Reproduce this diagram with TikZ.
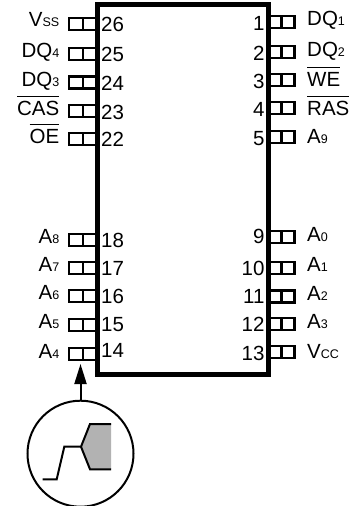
\documentclass[tikz,border=0pt]{standalone}
\usepackage{fontspec}
\setmainfont{Liberation Sans}
\usetikzlibrary{arrows.meta}
\newcommand{\sm}[1]{{\fontsize{12.5}{12.5}\selectfont #1}}
\newcommand{\barred}[1]{$\overline{\mbox{#1}\rule{0pt}{17.5pt}}$}
\tikzset{
	pinbox/.style={draw, line width=2.2pt, inner sep=0pt, outer sep=0pt, minimum height=12pt},
	pintext/.style={inner sep=0pt, font=\fontsize{20.5}{21}\selectfont}
}
\begin{document}
\begin{tikzpicture}[x=1pt, y=-1pt]
	\useasboundingbox (0,0) rectangle (356,506);
	% Left pins
	\foreach \n/\py/\txt/\ty/\ny in {26/23.7/V\sm{SS}/26/31.7, 25/54/DQ\sm{4}/57/61.7, 24/82.5/DQ\sm{3}/86.5/90, 23/111/\barred{CAS}/115/119, 22/139/\barred{OE}/143/146, 18/240/A\sm{8}/243/247, 17/268/A\sm{7}/271/275, 16/296/A\sm{6}/299/303, 15/325/A\sm{5}/328/331, 14/354/A\sm{4}/358/357} {
		\node[pinbox, minimum width=28pt] (pin\n) at (83,\py) {};
		\draw[line width=2.2pt] (pin\n.north) -- (pin\n.south);
		\node[pintext, anchor=base east] (name\n) at (59.5,\ty) {\txt};
		\node[pintext, anchor=base west] (num\n) at (101,\ny) {\n};
	}
	% Right pins
	\foreach \n/\py/\txt/\ty/\ny in {1/22/DQ\sm{1}/25/30, 2/52/DQ\sm{2}/56.7/60, 3/80/\barred{WE}/86.5/88, 4/108/\barred{RAS}/115/116.7, 5/137/A\sm{9}/143/145, 9/237/A\sm{0}/241.7/243, 10/267.7/A\sm{1}/271.7/275, 11/296.5/A\sm{2}/300/303, 12/324/A\sm{3}/328/331.7, 13/352/V\sm{CC}/358/360.7} {
		\node[pinbox, minimum width=26pt] (pin\n) at (281.5,\py) {};
		\draw[line width=2.2pt] (pin\n.north) -- (pin\n.south);
		\node[pintext, anchor=base west] (name\n) at (307,\ty) {\txt};
		\node[pintext, anchor=base east] (num\n) at (264.7,\ny) {\n};
	}
	% Package
	\node[draw, line width=4.5pt, inner sep=0pt, minimum width=171pt, minimum height=369.8pt] (chip) at (183,189.6) {};
	% Detail circle
	\node[draw, circle, line width=2pt, inner sep=0pt, minimum size=106pt] (detail) at (80.5,453.7) {};
	\fill[gray!60] (81,446.7) -- (90,424) -- (111,424) -- (111,469.3) -- (90,469.3) -- cycle;
	\draw[line width=2pt] (42.7,479.3) -- (56.7,479.3) -- (64.3,446.7) -- (81,446.7) -- (90,424) -- (111,424);
	\draw[line width=2pt] (81,446.7) -- (90,469.3) -- (111,469.3);
	\draw[-{Stealth[length=20pt, width=12pt, inset=0pt]}, line width=2pt, shorten >=4pt] (detail.north) -- (detail.north |- pin14.south);
\end{tikzpicture}
\end{document}
